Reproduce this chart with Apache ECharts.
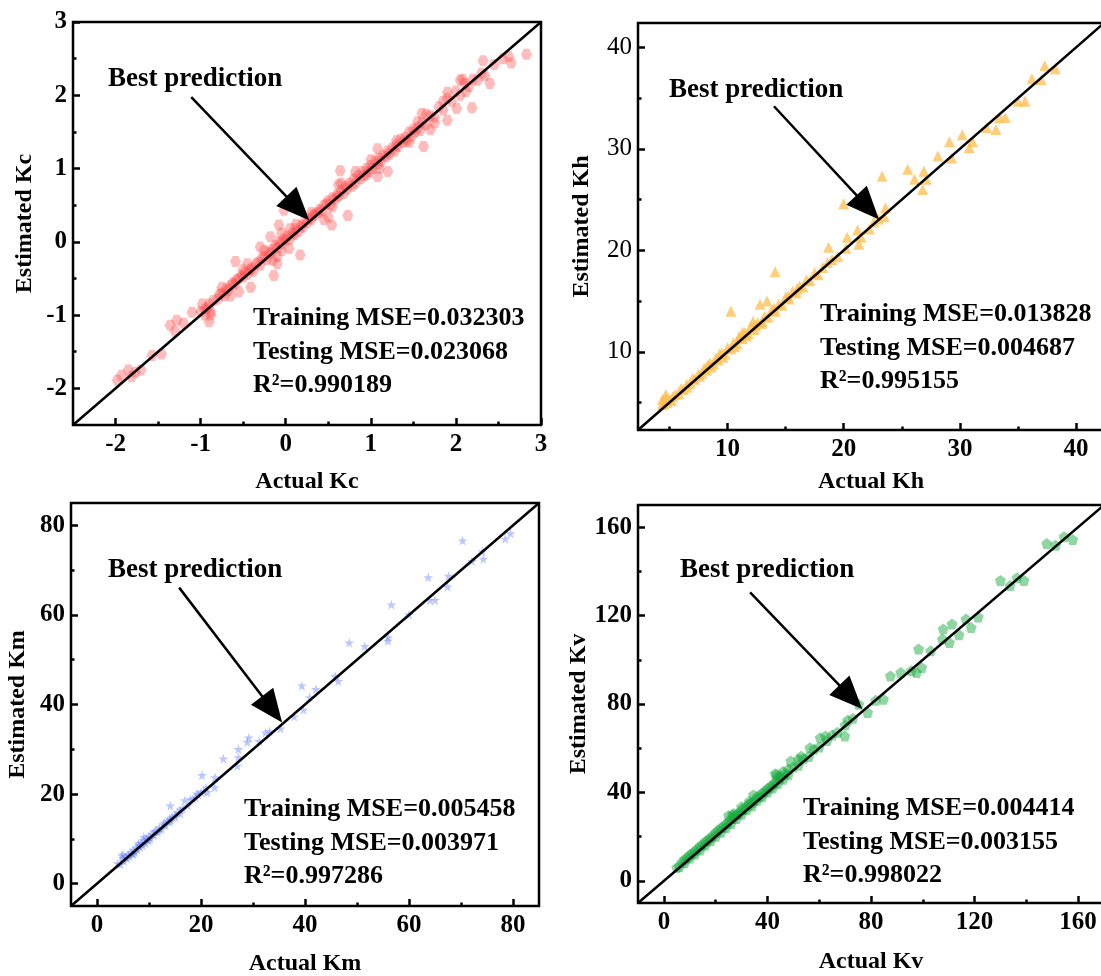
<!DOCTYPE html>
<html>
<head>
<meta charset="utf-8">
<script src="https://cdn.jsdelivr.net/npm/echarts@6/dist/echarts.min.js"></script>
<style>
  html, body { margin: 0; padding: 0; background: #fff; }
  #chart { width: 1101px; height: 976px; }
</style>
</head>
<body>
<div id="chart"></div>
<script>
// ---- data ----
const kcActual = [2.83, 2.65, 2.62, 2.32, 2.40, 2.34, 2.19, 2.01, 1.90, 1.90, 2.05, 1.62, 1.60, 1.70, 1.20, 1.08, 1.08, 0.64, 0.73, 0.54, 0.50, -0.02, -0.08, -0.18, -0.30, 0.17, 0.04, -0.14, -0.10, -0.41, -0.59, -0.88, -0.90, -0.98, -1.10, -1.36, -1.28, -1.30, -1.20, -1.46, -1.57, -1.98, -1.93, -1.85, -1.77, -1.70, -1.81,
  -0.95, -0.90, -0.85, -0.80, -0.78, -0.75, -0.72, -0.70, -0.68, -0.65, -0.62, -0.60, -0.58, -0.55, -0.52, -0.50, -0.48, -0.45, -0.42, -0.40, -0.38, -0.35, -0.32, -0.30, -0.28, -0.25, -0.22, -0.20, -0.18, -0.15, -0.12, -0.10, -0.08, -0.05, -0.02, 0.00, 0.02, 0.05, 0.08, 0.10, 0.12, 0.15, 0.18, 0.20, 0.22, 0.25, 0.28, 0.30, 0.32, 0.35, 0.38, 0.40, 0.42, 0.45, 0.48, 0.50, 0.52, 0.55, 0.58, 0.60, 0.62, 0.65, 0.68, 0.70, 0.72, 0.75, 0.78, 0.80, 0.82, 0.85, 0.88, 0.90, 0.92, 0.95, 0.98, 1.00, 1.02, 1.05, 1.08, 1.10, 1.12, 1.15, 1.18, 1.20, 1.22, 1.25, 1.28, 1.30, 1.32, 1.35, 1.38, 1.40, 1.42, 1.45, 1.48, 1.50, 1.52, 1.55, 1.58, 1.60, 1.65, 1.70, 1.75, 1.80, 1.85, 1.90, 1.95, 2.00, 2.05, 2.10, 2.15, 2.20, 2.25, 2.30, 2.45, 2.55,
  -1.00, -0.95, -0.92, -0.88, 0.62, 0.65, 0.55, 0.45, 0.30, 0.12, 0.05, -0.05, -0.15, -0.10, -0.05, -0.25, -0.45, -0.50, -0.55, -0.65, -0.75, 0.82, 0.95, 1.00, 1.10, 1.30, 1.45, 1.55, 1.65, 1.75, 1.85, 2.08, 2.12];
const kcEstimated = [2.56, 2.44, 2.53, 2.47, 2.16, 2.27, 1.83, 1.82, 1.66, 2.04, 2.21, 1.30, 1.75, 1.53, 0.96, 0.89, 1.27, 0.97, 0.36, 0.23, 0.34, 0.43, 0.23, 0.07, -0.07, -0.18, -0.09, -0.46, -0.30, -0.62, -0.27, -1.00, -1.09, -0.85, -0.96, -1.14, -1.07, -1.22, -1.11, -1.53, -1.55, -1.89, -1.82, -1.75, -1.78, -1.75, -1.84,
  -0.92, -0.85, -0.80, -0.78, -0.72, -0.70, -0.74, -0.64, -0.66, -0.60, -0.56, -0.58, -0.52, -0.50, -0.46, -0.48, -0.42, -0.44, -0.38, -0.36, -0.40, -0.30, -0.28, -0.32, -0.22, -0.20, -0.24, -0.14, -0.16, -0.10, -0.05, -0.08, 0.00, -0.02, 0.04, 0.02, 0.08, 0.04, 0.12, 0.10, 0.18, 0.14, 0.22, 0.20, 0.28, 0.26, 0.32, 0.30, 0.36, 0.38, 0.40, 0.44, 0.42, 0.50, 0.52, 0.56, 0.50, 0.60, 0.58, 0.64, 0.62, 0.70, 0.66, 0.76, 0.72, 0.80, 0.76, 0.86, 0.80, 0.90, 0.86, 0.96, 0.90, 1.00, 0.96, 1.04, 1.00, 1.10, 1.06, 1.14, 1.10, 1.18, 1.16, 1.24, 1.20, 1.28, 1.24, 1.32, 1.30, 1.40, 1.36, 1.42, 1.38, 1.50, 1.44, 1.54, 1.50, 1.56, 1.52, 1.62, 1.60, 1.72, 1.70, 1.84, 1.80, 1.96, 1.92, 2.06, 2.00, 2.16, 2.12, 2.22, 2.20, 2.30, 2.42, 2.50,
  -0.95, -1.00, -0.90, -0.95, 0.78, 0.80, 0.48, 0.30, 0.40, 0.24, 0.18, 0.12, -0.25, -0.20, -0.12, -0.12, -0.30, -0.38, -0.68, -0.74, -0.62, 0.96, 0.92, 1.12, 1.00, 1.38, 1.36, 1.64, 1.74, 1.62, 1.92, 2.22, 2.05];

const khActual = [23.3, 20.0, 14.1, 10.3, 12.8, 13.4, 18.7, 20.3, 21.2, 21.3, 25.5, 26.1, 26.9, 26.8, 27.1, 28.1, 29.1, 29.3, 30.2, 30.8, 31.1, 32.3, 33.1, 33.4, 33.9, 35.0, 35.6, 36.2, 37.0, 37.3, 38.2, 4.7, 4.4,
  4.5, 4.8, 5.0, 5.2, 5.5, 5.8, 6.0, 6.2, 6.5, 6.8, 7.0, 7.2, 7.5, 7.8, 8.0, 8.2, 8.5, 8.8, 9.0, 9.2, 9.5, 9.8, 10.0, 10.3, 10.5, 10.8, 11.0, 11.3, 11.5, 11.8, 12.0, 12.3, 12.6, 12.9, 13.2, 13.5, 13.8, 14.1, 14.4, 14.7, 15.0, 15.3, 15.6, 15.9, 16.2, 16.5, 16.8, 17.1, 17.5, 17.8, 18.2, 18.6, 19.0, 19.5, 20.2, 21.5, 22.2, 22.6, 23.0, 23.5, 23.6,
  6.5, 7.6, 8.6, 9.6, 10.6, 11.6, 12.4, 13.0, 14.0, 15.2, 16.0, 5.3, 4.7, 4.4, 12.2, 11.3, 11.0, 9.3, 8.3];
const khEstimated = [27.3, 24.6, 17.9, 14.0, 14.7, 15.0, 20.3, 21.3, 22.0, 20.6, 28.0, 27.0, 27.8, 26.0, 27.0, 29.3, 30.7, 29.1, 31.4, 30.1, 30.7, 32.1, 31.9, 33.1, 33.1, 34.7, 34.7, 36.9, 36.8, 38.2, 37.9, 5.8, 5.3,
  4.9, 5.0, 5.3, 5.2, 5.8, 5.9, 6.4, 6.3, 6.8, 6.9, 7.4, 7.3, 7.8, 7.9, 8.4, 8.2, 8.9, 8.8, 9.4, 9.2, 9.9, 9.8, 10.4, 10.3, 10.9, 10.8, 11.4, 11.3, 11.9, 11.8, 12.5, 12.2, 12.9, 12.8, 13.5, 13.4, 14.1, 14.0, 14.7, 14.6, 15.4, 15.2, 16.0, 15.8, 16.5, 16.4, 17.1, 17.0, 17.8, 17.6, 18.3, 18.8, 19.1, 19.4, 20.2, 21.3, 22.1, 22.8, 23.1, 23.3, 24.2,
  6.5, 7.6, 8.5, 9.5, 10.5, 11.6, 12.6, 13.0, 14.3, 15.5, 16.2, 5.6, 5.5, 4.8, 13.0, 11.9, 11.5, 9.8, 8.7];

const kmActual = [70.3, 79.5, 78.5, 74.3, 74.1, 72.1, 63.7, 67.4, 67.6, 64.0, 65.0, 56.6, 60.0, 56.0, 55.9, 51.5, 48.5, 45.8, 46.4, 42.1, 39.4, 40.9, 39.7, 37.9, 35.3, 32.4, 33.2, 31.2, 29.2, 28.9, 27.2, 27.2, 27.0, 24.3, 22.7, 22.6, 20.2, 21.2, 19.2, 16.9, 14.1, 14.1,
  4.0, 4.5, 5.0, 5.2, 5.5, 5.8, 6.0, 6.3, 6.5, 6.8, 7.0, 7.3, 7.5, 7.8, 8.0, 8.3, 8.5, 8.8, 9.0, 9.3, 9.5, 9.8, 10.0, 10.3, 10.6, 11.0, 11.3, 11.7, 12.0, 12.4, 12.8, 13.2, 13.6, 14.0, 14.5, 15.0, 15.5, 16.0, 16.5, 17.5, 18.0, 18.5, 19.0, 19.5, 20.0, 20.5, 21.0,
  5.0, 4.8, 7.0, 8.0, 9.0, 10.0, 11.0, 12.0, 13.0, 14.0, 15.0, 16.0];
const kmEstimated = [76.6, 78.2, 77.0, 72.5, 74.2, 72.0, 68.4, 66.3, 68.7, 63.3, 63.3, 62.3, 60.1, 55.0, 54.2, 53.0, 53.8, 46.3, 45.2, 43.4, 44.2, 41.6, 38.8, 37.3, 34.6, 33.7, 34.0, 31.8, 32.6, 31.6, 30.0, 28.2, 26.3, 27.9, 23.7, 21.5, 24.2, 20.4, 20.1, 18.6, 17.4, 14.2,
  4.5, 4.3, 5.6, 5.0, 6.0, 5.6, 6.5, 6.1, 7.0, 6.6, 7.5, 7.0, 8.0, 7.6, 8.6, 8.1, 9.1, 8.5, 9.7, 9.0, 10.1, 9.6, 10.6, 10.1, 11.1, 10.8, 11.8, 11.5, 12.5, 12.2, 13.2, 13.0, 14.0, 13.8, 14.9, 14.8, 15.9, 15.7, 16.8, 17.4, 18.8, 18.9, 19.2, 19.8, 20.4, 20.6, 21.4,
  6.5, 6.2, 6.6, 9.0, 10.4, 9.8, 11.6, 12.0, 13.6, 14.5, 15.3, 16.5];

const kvActual = [147.9, 151.3, 154.6, 157.9, 130.0, 133.7, 136.4, 139.1, 107.9, 111.3, 116.7, 118.7, 121.4, 114.0, 110.3, 107.6, 98.4, 103.1, 87.5, 91.5, 95.6, 97.6, 99.6, 84.8, 81.8, 75.3, 78.7, 71.0, 69.9, 62.4, 60.4, 56.4, 53.0, 49.0, 43.5, 34.6, 26.5,
  5, 6, 7, 8, 9, 10, 11, 12, 13, 14, 15, 16, 17, 18, 19, 20, 21, 22, 23, 24, 25, 26, 27, 28, 29, 30, 31, 32, 33, 34, 35, 36, 37, 38, 39, 40, 41, 42, 43, 44, 45, 46, 47, 48, 50, 52, 54, 56, 58, 60, 63, 65, 67, 70, 73,
  8, 12, 16, 20, 24, 28, 32, 36, 40, 44, 10, 14, 18, 22, 26, 30, 34, 38, 42, 25, 27, 30, 33, 46, 48, 52, 43, 45];
const kvEstimated = [152.6, 151.8, 155.6, 154.4, 135.9, 133.6, 137.1, 135.9, 113.9, 116.2, 118.4, 114.6, 119.4, 111.3, 107.8, 109.4, 104.9, 104.1, 92.7, 94.2, 95.0, 94.2, 96.5, 82.1, 81.7, 79.9, 76.1, 72.6, 65.5, 65.5, 64.7, 60.2, 56.4, 54.2, 48.0, 38.9, 29.8,
  6.0, 6.5, 8.5, 8.2, 10.5, 10.3, 12.5, 12.2, 14.5, 14.0, 16.5, 16.2, 18.6, 18.1, 20.5, 20.2, 22.8, 22.0, 24.5, 24.1, 26.8, 26.0, 28.5, 28.2, 30.6, 30.1, 32.5, 32.3, 34.8, 34.0, 36.2, 36.5, 38.4, 38.0, 40.5, 40.2, 42.6, 42.0, 44.5, 44.0, 46.5, 46.0, 48.6, 48.0, 51.5, 52.3, 55.4, 56.2, 59.5, 60.5, 63.5, 66.0, 67.2, 70.5, 73.5,
  9.8, 13.6, 17.8, 22.0, 25.8, 30.0, 34.0, 38.0, 41.8, 46.8, 11.8, 15.8, 19.6, 24.0, 28.2, 32.2, 35.5, 39.8, 43.6, 29.6, 30.5, 33.5, 36.0, 49.5, 50.5, 55.0, 48.5, 47.5];

// axis ranges and ticks
const kcRange = [-2.5, 3];
const kcMajor = [-2, -1, 0, 1, 2, 3];
const kcMinor = [-1.5, -0.5, 0.5, 1.5, 2.5];
const khRange = [2.3, 42.4];
const khMajor = [10, 20, 30, 40];
const khMinor = [5, 15, 25, 35];
const kmRange = [-5, 85];
const kmMajor = [0, 20, 40, 60, 80];
const kmMinor = [10, 30, 50, 70];
const kvRange = [-10, 170];
const kvMajor = [0, 40, 80, 120, 160];
const kvMinor = [20, 60, 100, 140];

// arrow start / tip in data units
const kcArrow = [[-1.11, 1.975], [0.276, 0.295]];
const khArrow = [[14.0, 34.2], [23.04, 23.05]];
const kmArrow = [[15.8, 66.1], [35.6, 36.0]];
const kvArrow = [[33.3, 130.5], [76.6, 77.7]];

const kcStats = ['Training MSE=0.032303', 'Testing MSE=0.023068', 'R²=0.990189'];
const khStats = ['Training MSE=0.013828', 'Testing MSE=0.004687', 'R²=0.995155'];
const kmStats = ['Training MSE=0.005458', 'Testing MSE=0.003971', 'R²=0.997286'];
const kvStats = ['Training MSE=0.004414', 'Testing MSE=0.003155', 'R²=0.998022'];

const FONT = 'Liberation Serif';
const HEAD = [28, 33]; // arrow head width / length in px
const hexagon = 'path://M-1,0L-0.5,-0.866L0.5,-0.866L1,0L0.5,0.866L-0.5,0.866Z';
const star = 'path://M0,-1L0.2245,-0.309L0.951,-0.309L0.363,0.118L0.588,0.809L0,0.382L-0.588,0.809L-0.363,0.118L-0.951,-0.309L-0.2245,-0.309Z';
const pentagon = 'path://M0,-1L0.951,-0.309L0.588,0.809L-0.588,0.809L-0.951,-0.309Z';

const panels = [
  { grid: { left: 73, top: 22, width: 468, height: 403 }, range: kcRange, major: kcMajor, minor: kcMinor,
    actual: kcActual, est: kcEstimated, xName: 'Actual Kc', yName: 'Estimated Kc', xGap: 45, yGap: 36,
    yBold: true, symbol: hexagon, size: 11, color: 'rgba(255,70,70,0.45)', arrow: kcArrow, stats: kcStats,
    bestPos: [108, 66], statPos: [253, 302] },
  { grid: { left: 638, top: 23, width: 466, height: 407 }, range: khRange, major: khMajor, minor: khMinor,
    actual: khActual, est: khEstimated, xName: 'Actual Kh', yName: 'Estimated Kh', xGap: 40, yGap: 44,
    yBold: false, symbol: 'triangle', size: 11, color: 'rgba(255,190,80,0.95)', arrow: khArrow, stats: khStats,
    bestPos: [669, 77], statPos: [820, 298] },
  { grid: { left: 71, top: 503, width: 468, height: 403 }, range: kmRange, major: kmMajor, minor: kmMinor,
    actual: kmActual, est: kmEstimated, xName: 'Actual Km', yName: 'Estimated Km', xGap: 46, yGap: 41,
    yBold: true, symbol: star, size: 10, color: 'rgba(100,130,255,0.55)', arrow: kmArrow, stats: kmStats,
    bestPos: [108, 557], statPos: [244, 793] },
  { grid: { left: 638, top: 505, width: 466, height: 398 }, range: kvRange, major: kvMajor, minor: kvMinor,
    actual: kvActual, est: kvEstimated, xName: 'Actual Kv', yName: 'Estimated Kv', xGap: 47, yGap: 42,
    yBold: true, symbol: pentagon, size: 11, color: 'rgba(20,170,60,0.6)', arrow: kvArrow, stats: kvStats,
    bestPos: [680, 557], statPos: [803, 792] }
];

const grids = [], xAxes = [], yAxes = [], series = [], graphics = [];

function axisPair(pos, gi, p, name, gap, bold) {
  const base = {
    type: 'value', gridIndex: gi, position: pos, min: p.range[0], max: p.range[1],
    splitLine: { show: false }, axisLine: { show: false, onZero: false }
  };
  const major = Object.assign({}, base, {
    name: name, nameLocation: 'middle', nameGap: gap,
    nameTextStyle: { fontFamily: FONT, fontWeight: 'bold', fontSize: 24, color: '#000' },
    axisTick: { inside: true, length: 7, customValues: p.major, lineStyle: { color: '#000', width: 2.5 } },
    axisLabel: { customValues: p.major, fontFamily: FONT, fontWeight: bold ? 'bold' : 'normal',
      fontSize: 25, color: '#000', margin: pos === 'left' ? 6 : 7 }
  });
  const minor = Object.assign({}, base, {
    axisTick: { inside: true, length: 3.5, customValues: p.minor, lineStyle: { color: '#000', width: 2.5 } },
    axisLabel: { show: false }
  });
  return [major, minor];
}

panels.forEach(function (p, i) {
  grids.push(Object.assign({
    show: true, borderColor: '#000', borderWidth: 2.5, backgroundColor: 'transparent',
    containLabel: false, outerBoundsMode: 'none'
  }, p.grid));
  xAxes.push.apply(xAxes, axisPair('bottom', i, p, p.xName, p.xGap, true));
  yAxes.push.apply(yAxes, axisPair('left', i, p, p.yName, p.yGap, p.yBold));

  series.push({
    type: 'scatter', xAxisIndex: 2 * i, yAxisIndex: 2 * i,
    data: p.actual.map(function (v, k) { return [v, p.est[k]]; }),
    symbol: p.symbol, symbolSize: p.size,
    itemStyle: { color: p.color }, silent: true, z: 2
  });
  series.push({
    id: 'diag' + i,
    type: 'line', xAxisIndex: 2 * i, yAxisIndex: 2 * i,
    data: [[p.range[0], p.range[0]], [p.range[1], p.range[1]]],
    symbol: 'none', lineStyle: { color: '#000', width: 2.5 }, silent: true, z: 3,
    markLine: {
      silent: true, symbol: ['none', 'triangle'], symbolSize: HEAD,
      label: { show: false },
      lineStyle: { color: '#000', width: 2.5, type: 'solid' },
      data: [[{ coord: p.arrow[0] }, { coord: p.arrow[1] }]]
    }
  });

  graphics.push({
    type: 'text', left: p.bestPos[0], top: p.bestPos[1], z: 10,
    style: { text: 'Best prediction', font: 'bold 27px "' + FONT + '"', fill: '#000' }
  });
  graphics.push({
    type: 'text', left: p.statPos[0], top: p.statPos[1], z: 10,
    style: { text: p.stats.join('\n'), font: 'bold 26px "' + FONT + '"', fill: '#000', lineHeight: 33.5 }
  });
});

const myChart = echarts.init(document.getElementById('chart'));
myChart.setOption({
  backgroundColor: '#fff',
  animation: false,
  grid: grids,
  xAxis: xAxes,
  yAxis: yAxes,
  series: series,
  graphic: graphics
});

// the triangle head is centred on the line end, so pull the end back
// by half the head length to keep the tip on the arrow's target
panels.forEach(function (p, i) {
  const finder = { xAxisIndex: 2 * i, yAxisIndex: 2 * i };
  const a = myChart.convertToPixel(finder, p.arrow[0]);
  const b = myChart.convertToPixel(finder, p.arrow[1]);
  const dx = b[0] - a[0], dy = b[1] - a[1];
  const len = Math.sqrt(dx * dx + dy * dy);
  const back = HEAD[1] / 2;
  const end = myChart.convertFromPixel(finder, [b[0] - dx / len * back, b[1] - dy / len * back]);
  myChart.setOption({
    series: [{ id: 'diag' + i, markLine: { data: [[{ coord: p.arrow[0] }, { coord: end }]] } }]
  });
});

window.addEventListener('resize', function () {
  myChart.resize();
});
</script>
</body>
</html>
